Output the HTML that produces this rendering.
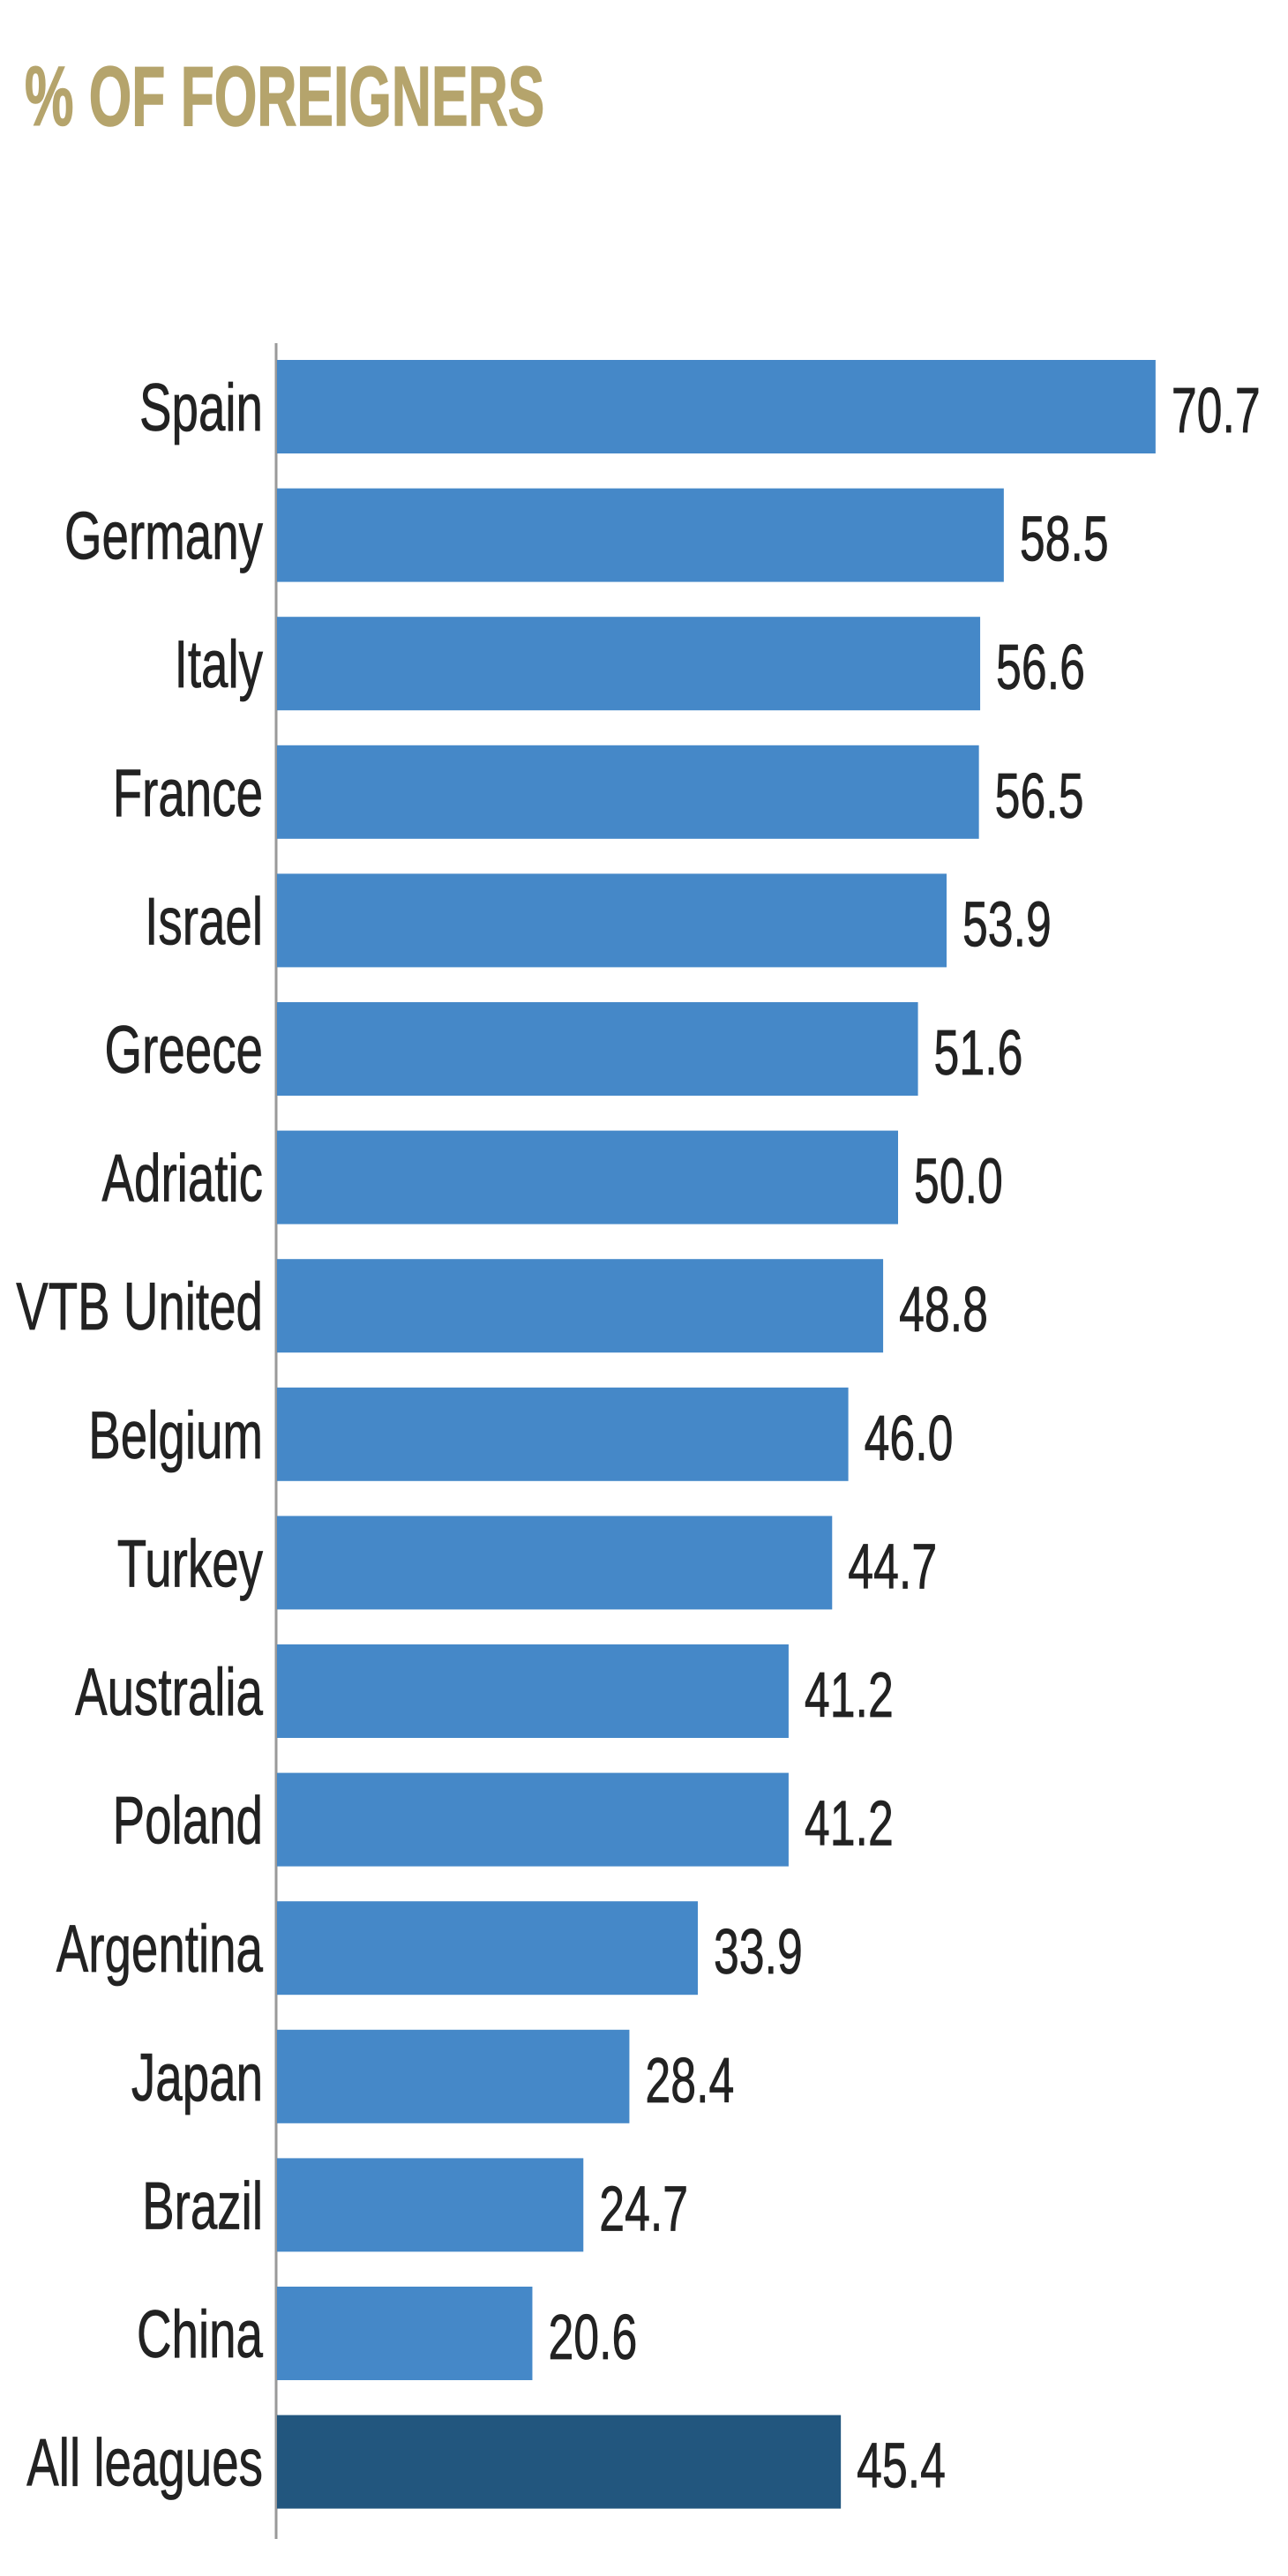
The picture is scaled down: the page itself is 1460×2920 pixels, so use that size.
<!DOCTYPE html>
<html><head><meta charset="utf-8"><style>
html,body{margin:0;padding:0;background:#fff;}
svg{display:block;}
</style></head><body>
<svg id="chart" width="1460" height="2920" viewBox="0 0 1460 2920" xmlns="http://www.w3.org/2000/svg">
<g transform="scale(0.65,1)"><text x="43" y="142" font-family="'Liberation Sans Narrow','Liberation Sans',sans-serif" font-weight="bold" font-size="96" fill="#b5a46c" stroke="#b5a46c" stroke-width="1.5">% OF FOREIGNERS</text></g>
<line x1="313" y1="389" x2="313" y2="2878" stroke="#999" stroke-width="3"/>
<g id="bars"></g>
</svg>
<script>
const categories = ["Spain","Germany","Italy","France","Israel","Greece","Adriatic","VTB United","Belgium","Turkey","Australia","Poland","Argentina","Japan","Brazil","China","All leagues"];
const values = [70.7,58.5,56.6,56.5,53.9,51.6,50.0,48.8,46.0,44.7,41.2,41.2,33.9,28.4,24.7,20.6,45.4];
const valueLabels = ["70.7","58.5","56.6","56.5","53.9","51.6","50.0","48.8","46.0","44.7","41.2","41.2","33.9","28.4","24.7","20.6","45.4"];

const NS = "http://www.w3.org/2000/svg";
const x0 = 313, pxPerUnit = 14.1;
const top0 = 408, pitch = 145.6, barH = 106;
const sx = 0.72;
function xScale(v){ return x0 + v * pxPerUnit; }
function yScale(i){ return top0 + i * pitch; }
const g = document.getElementById('bars');
const font = "'Liberation Sans Narrow','Liberation Sans',sans-serif";
categories.forEach((c, i) => {
  const y = yScale(i);
  const last = i === categories.length - 1;
  const r = document.createElementNS(NS, 'rect');
  
  
  r.setAttribute('x', x0 + 1);
  r.setAttribute('y', y);
  r.setAttribute('width', xScale(values[i]) - x0 - 1);
  r.setAttribute('height', barH);
  r.setAttribute('fill', last ? '#22567e' : '#4588c8');
  g.appendChild(r);

  const lg = document.createElementNS(NS, 'g');
  lg.setAttribute('transform', 'scale(' + sx + ',1)');
  const t = document.createElementNS(NS, 'text');
  
  
  t.setAttribute('x', 298 / sx);
  t.setAttribute('y', y + barH / 2 + 27);
  t.setAttribute('text-anchor', 'end');
  t.setAttribute('font-family', font);
  t.setAttribute('font-size', '76');
  t.setAttribute('fill', '#222');
  t.setAttribute('stroke', '#222');
  t.setAttribute('stroke-width', '0.8');
  t.textContent = c;
  lg.appendChild(t);

  const v = document.createElementNS(NS, 'text');
  
  
  v.setAttribute('x', (xScale(values[i]) + 18) / sx);
  v.setAttribute('y', y + barH / 2 + 29);
  v.setAttribute('font-family', font);
  v.setAttribute('font-size', '72');
  v.setAttribute('fill', '#222');
  v.setAttribute('stroke', '#222');
  v.setAttribute('stroke-width', '0.8');
  v.textContent = valueLabels[i];
  lg.appendChild(v);
  g.appendChild(lg);
});
</script>
</body></html>
